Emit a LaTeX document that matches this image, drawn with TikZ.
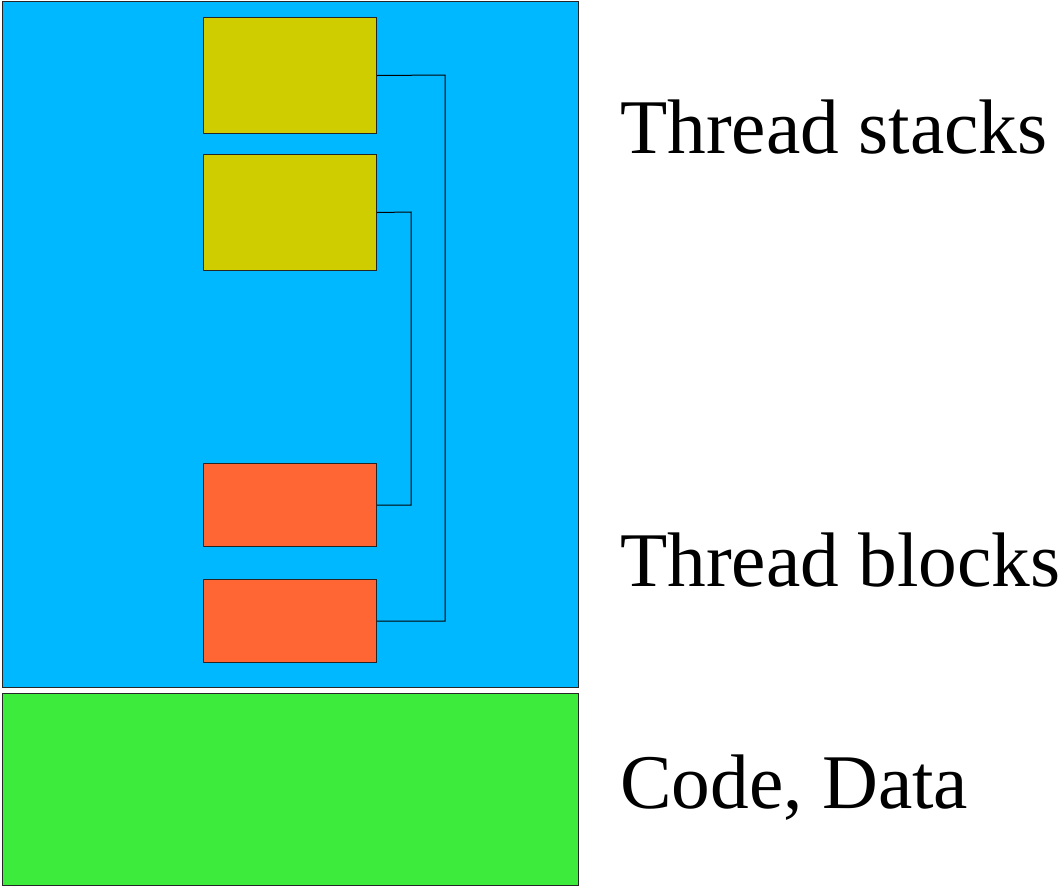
\documentclass[tikz,border=0pt]{standalone}
\usepackage{fontspec}
\setmainfont{Liberation Serif}
\begin{document}
\begin{tikzpicture}[x=0.75pt,y=-0.75pt,
  box/.style={draw=black!85,line width=0.75pt},
  link/.style={draw=black,line width=0.75pt},
  lbl/.style={anchor=base west,inner sep=0pt,font=\fontsize{58}{70}\selectfont}]
\definecolor{memblue}{HTML}{00B8FF}
\definecolor{memgreen}{HTML}{3DEB3D}
\definecolor{stackyel}{HTML}{CFCD00}
\definecolor{blkorange}{HTML}{FF6633}
\useasboundingbox (0,0) rectangle (1061,886);
\fill[white] (0,0) rectangle (1061,886);
\filldraw[box,fill=memblue] (2,1) rectangle (578,687);
\filldraw[box,fill=memgreen] (2,693) rectangle (578,885);
\node[box,fill=stackyel,minimum width=173*0.75pt,minimum height=116*0.75pt,inner sep=0pt,anchor=north west] (s1) at (203,17) {};
\node[box,fill=stackyel,minimum width=173*0.75pt,minimum height=116*0.75pt,inner sep=0pt,anchor=north west] (s2) at (203,154) {};
\node[box,fill=blkorange,minimum width=173*0.75pt,minimum height=83*0.75pt,inner sep=0pt,anchor=north west] (b1) at (203,463) {};
\node[box,fill=blkorange,minimum width=173*0.75pt,minimum height=83*0.75pt,inner sep=0pt,anchor=north west] (b2) at (203,579) {};
\coordinate (c1) at (445,75);
\coordinate (c2) at (411,212);
\draw[link] (s1.east) -- (c1) |- (b2.east);
\draw[link] (s2.east) -- (c2) |- (b1.east);
\node[lbl] (t1) at (620,153) {Thread stacks};
\node[lbl] (t2) at (620,586) {Thread blocks};
\node[lbl] (t3) at (620,808) {Code, Data};
\end{tikzpicture}
\end{document}
